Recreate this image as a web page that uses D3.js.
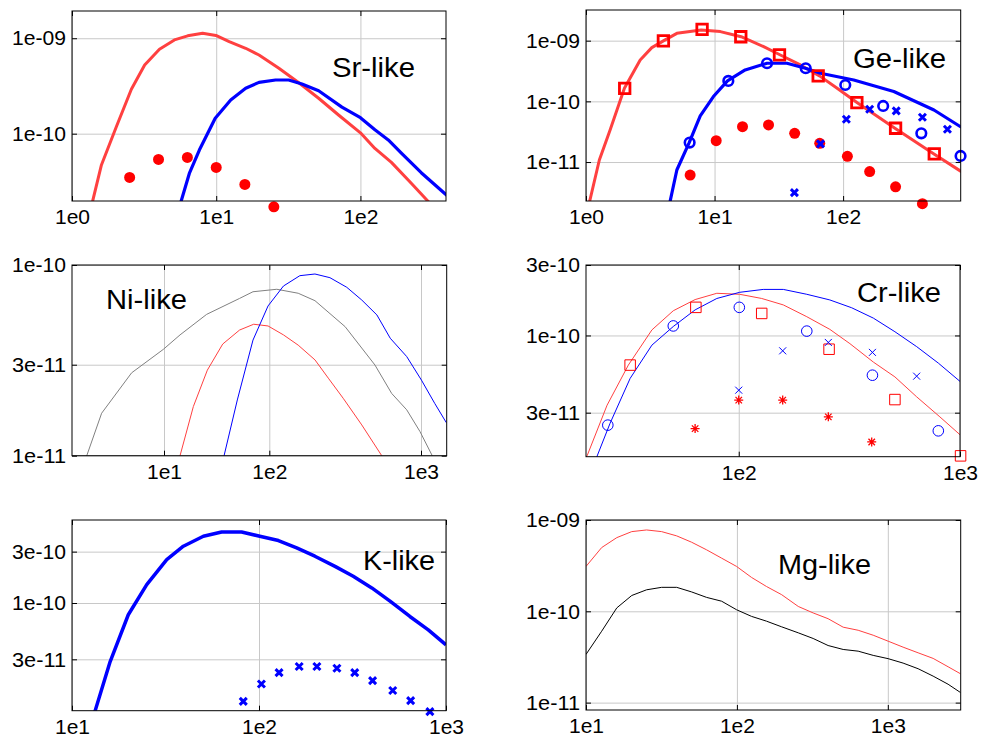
<!DOCTYPE html>
<html>
<head>
<meta charset="utf-8">
<script src="https://cdn.jsdelivr.net/npm/d3@7"></script>
<style>
    body { margin: 0; background: #fff; }
    svg text { font-family: "Liberation Sans", Arial, sans-serif; }
</style>
</head>
<body>
<div id="chart"></div>
<script>
"use strict";

// ---- Sr-like ----
const srXTicks = [1, 10, 100]
const srXLabels = ["1e0", "1e1", "1e2"]
const srYTicks = [1e-9, 1e-10]
const srYLabels = ["1e-09", "1e-10"]
const srRedLine = [[1.30, 1.4e-11], [1.39, 1.96e-11], [1.60, 4.7e-11], [2.03, 1.18e-10], [2.58, 2.92e-10], [3.19, 5.25e-10], [4.04, 7.67e-10], [5.13, 9.6e-10], [6.34, 1.06e-9], [8.05, 1.13e-9], [9.95, 1.07e-9], [12.3, 9.2e-10], [16.0, 7.85e-10], [19.8, 6.68e-10], [27.2, 4.84e-10], [37.4, 3.42e-10], [51.3, 2.35e-10], [70.5, 1.57e-10], [100, 1.02e-10], [126, 7.0e-11], [164, 5.0e-11], [226, 3.0e-11], [294, 1.96e-11], [340, 1.5e-11]]
const srBlueLine = [[5.5, 1.6e-11], [5.71, 1.96e-11], [6.51, 3.83e-11], [7.64, 6.73e-11], [9.84, 1.45e-10], [12.6, 2.25e-10], [16.0, 2.99e-10], [19.8, 3.45e-10], [25.8, 3.65e-10], [31.8, 3.65e-10], [39.3, 3.31e-10], [51.3, 2.82e-10], [74.4, 1.9e-10], [100, 1.47e-10], [126, 1.1e-10], [156, 8.6e-11], [193, 6.2e-11], [264, 3.9e-11], [379, 2.4e-11], [420, 2.1e-11]]
const srRedDots = [[2.51, 3.48e-11], [3.98, 5.37e-11], [6.31, 5.63e-11], [10, 4.43e-11], [15.8, 2.94e-11], [25.1, 1.71e-11]]

// ---- Ge-like ----
const geXTicks = [1, 10, 100]
const geXLabels = ["1e0", "1e1", "1e2"]
const geYTicks = [1e-9, 1e-10, 1e-11]
const geYLabels = ["1e-09", "1e-10", "1e-11"]
const geRedLine = [[1.03, 1.5e-12], [1.07, 2.3e-12], [1.27, 1.08e-11], [1.54, 3.38e-11], [1.99, 1.64e-10], [2.64, 4.81e-10], [3.25, 7.67e-10], [4.0, 9.9e-10], [5.09, 1.32e-9], [7.87, 1.5e-9], [11.1, 1.41e-9], [16.1, 1.16e-9], [24.1, 7.96e-10], [32.5, 5.81e-10], [46.5, 3.98e-10], [65.5, 2.63e-10], [89.9, 1.64e-10], [129, 9.5e-11], [253, 3.6e-11], [509, 1.36e-11], [832, 6.95e-12]]
const geRedSquares = [[2, 1.64e-10], [4, 9.9e-10], [8, 1.54e-9], [16, 1.16e-9], [32, 5.81e-10], [64, 2.63e-10], [128, 9.5e-11], [256, 3.6e-11], [512, 1.36e-11]]
const geBlueLine = [[4.4, 1.8e-12], [4.52, 2.3e-12], [5.09, 7.4e-12], [6.35, 2.09e-11], [7.74, 5.75e-11], [9.8, 1.2e-10], [12.6, 2.17e-10], [17.3, 3.29e-10], [25.6, 4.24e-10], [36.6, 4.24e-10], [50.9, 3.51e-10], [66.7, 2.9e-10], [121, 2.25e-10], [248, 1.45e-10], [509, 7.2e-11], [832, 3.74e-11]]
const geBlueCircles = [[6.4, 2.09e-11], [12.8, 2.17e-10], [25.6, 4.24e-10], [51.2, 3.51e-10], [104, 1.86e-10], [205, 8.4e-11], [406, 2.97e-11], [820, 1.26e-11]]
const geBlueCross = [[41.8, 3.13e-12], [66.7, 1.99e-11], [106, 5.07e-11], [161, 7.4e-11], [259, 6.95e-11], [414, 5.47e-11], [648, 3.47e-11]]
const geRedDots = [[6.46, 6.1e-12], [10.3, 2.25e-11], [16.5, 3.83e-11], [26.3, 4.08e-11], [42, 2.97e-11], [65.8, 2.03e-11], [108, 1.24e-11], [161, 6.95e-12], [256, 3.9e-12], [414, 2.06e-12]]

// ---- Ni-like ----
const niXTicks = [10, 100, 1000]
const niXLabels = ["1e1", "1e2", "1e3"]
const niYTicks = [1e-10, 3e-11, 1e-11]
const niYLabels = ["1e-10", "3e-11", "1e-11"]
const niGrayLine = [[1.7, 8.5e-12], [1.85, 1.0e-11], [2.56, 1.67e-11], [4.93, 2.72e-11], [9.85, 3.61e-11], [14.2, 4.3e-11], [25.4, 5.51e-11], [52.2, 6.68e-11], [70, 7.24e-11], [112, 7.46e-11], [155, 7.11e-11], [200, 6.5e-11], [316, 4.75e-11], [497, 2.99e-11], [641, 2.12e-11], [805, 1.74e-11], [984, 1.34e-11], [1186, 1.0e-11], [1250, 9e-12]]
const niRedLine = [[13.5, 9e-12], [14.2, 1.0e-11], [19, 1.81e-11], [25.8, 2.81e-11], [36.1, 3.85e-11], [52.2, 4.56e-11], [71.1, 4.89e-11], [97.3, 4.79e-11], [124, 4.3e-11], [155, 3.8e-11], [200, 3.18e-11], [245, 2.55e-11], [307, 2.0e-11], [407, 1.45e-11], [551, 1.0e-11], [600, 9e-12]]
const niBlueLine = [[35, 9e-12], [37.2, 1.0e-11], [49.7, 1.96e-11], [70, 4.04e-11], [97.3, 6.1e-11], [124, 7.76e-11], [159, 8.79e-11], [200, 8.97e-11], [251, 8.58e-11], [324, 7.64e-11], [407, 6.55e-11], [512, 5.47e-11], [627, 4.13e-11], [805, 3.31e-11], [1007, 2.49e-11], [1232, 1.88e-11], [1469, 1.49e-11]]

// ---- Cr-like ----
const crXTicks = [100, 1000]
const crXLabels = ["1e2", "1e3"]
const crYTicks = [3e-10, 1e-10, 3e-11]
const crYLabels = ["3e-10", "1e-10", "3e-11"]
const crBlueLine = [[21.5, 1.2e-11], [22.8, 1.5e-11], [26.2, 2.54e-11], [32.3, 5.12e-11], [40.5, 8.6e-11], [50.6, 1.15e-10], [63.5, 1.49e-10], [79.6, 1.78e-10], [101, 1.96e-10], [129, 2.05e-10], [159, 2.05e-10], [203, 1.9e-10], [258, 1.74e-10], [324, 1.54e-10], [406, 1.31e-10], [508, 1.06e-10], [637, 8.4e-11], [798, 6.5e-11], [1006, 4.85e-11]]
const crRedLine = [[19.5, 1.3e-11], [20.7, 1.55e-11], [25.4, 3.37e-11], [31.7, 6.3e-11], [40.5, 1.09e-10], [50.6, 1.47e-10], [63.5, 1.75e-10], [79.6, 1.93e-10], [101, 1.9e-10], [127, 1.78e-10], [159, 1.61e-10], [203, 1.34e-10], [258, 1.1e-10], [318, 8.8e-11], [406, 6.6e-11], [508, 5.24e-11], [637, 3.84e-11], [811, 2.81e-11], [1006, 2.11e-11]]
const crBlueCircles = [[25.6, 2.47e-11], [50.6, 1.16e-10], [100.6, 1.55e-10], [203, 1.07e-10], [402, 5.38e-11], [798, 2.26e-11]]
const crRedSquares = [[32.3, 6.3e-11], [64, 1.55e-10], [127, 1.41e-10], [256, 8.07e-11], [508, 3.68e-11], [1006, 1.53e-11]]
const crBlueCross = [[100, 4.26e-11], [158, 7.87e-11], [254, 8.97e-11], [402, 7.68e-11], [637, 5.3e-11]]
const crRedStars = [[63.5, 2.34e-11], [100, 3.65e-11], [158, 3.65e-11], [254, 2.81e-11], [399, 1.9e-11]]

// ---- K-like ----
const kXTicks = [10, 100, 1000]
const kXLabels = ["1e1", "1e2", "1e3"]
const kYTicks = [3e-10, 1e-10, 3e-11]
const kYLabels = ["3e-10", "1e-10", "3e-11"]
const kBlueLine = [[12.5, 8e-12], [13.3, 1.0e-11], [16, 2.86e-11], [20, 7.78e-11], [25.1, 1.48e-10], [32.1, 2.53e-10], [39.4, 3.37e-10], [50.4, 4.17e-10], [63.1, 4.57e-10], [80.7, 4.57e-10], [101, 4.17e-10], [127, 3.8e-10], [159, 3.25e-10], [199, 2.72e-10], [255, 2.19e-10], [319, 1.77e-10], [401, 1.38e-10], [502, 1.04e-10], [641, 7.5e-11], [804, 5.64e-11], [1000, 4.09e-11]]
const kBlueCross = [[82.4, 1.22e-11], [103, 1.77e-11], [128, 2.26e-11], [164, 2.57e-11], [204, 2.57e-11], [261, 2.48e-11], [325, 2.26e-11], [405, 1.9e-11], [519, 1.54e-11], [647, 1.24e-11], [820, 9.8e-12]]

// ---- Mg-like ----
const mgXTicks = [10, 100, 1000]
const mgXLabels = ["1e1", "1e2", "1e3"]
const mgYTicks = [1e-9, 1e-10, 1e-11]
const mgYLabels = ["1e-09", "1e-10", "1e-11"]
const mgRedLine = [[10, 3.1e-10], [12.7, 4.99e-10], [16, 6.41e-10], [20.1, 7.46e-10], [25.2, 7.78e-10], [31.7, 7.46e-10], [39.9, 6.7e-10], [50.1, 5.71e-10], [63, 4.71e-10], [79.2, 3.82e-10], [99.5, 3.1e-10], [125, 2.35e-10], [157, 1.87e-10], [198, 1.52e-10], [255, 1.13e-10], [320, 9.6e-11], [402, 8.3e-11], [506, 6.7e-11], [636, 6.2e-11], [800, 5.47e-11], [1004, 4.71e-11], [1262, 4.05e-11], [1588, 3.51e-11], [1996, 3.05e-11], [2508, 2.47e-11], [3030, 2.07e-11]]
const mgBlackLine = [[10, 3.37e-11], [12.7, 6.05e-11], [16, 1.09e-10], [20.1, 1.49e-10], [25.2, 1.72e-10], [31.7, 1.83e-10], [39.9, 1.83e-10], [50.1, 1.63e-10], [63, 1.42e-10], [79.2, 1.29e-10], [99.5, 1.04e-10], [125, 8.8e-11], [157, 7.8e-11], [198, 6.76e-11], [255, 5.81e-11], [320, 5.04e-11], [402, 4.22e-11], [506, 3.82e-11], [636, 3.66e-11], [800, 3.29e-11], [1004, 3.03e-11], [1262, 2.71e-11], [1588, 2.35e-11], [1996, 1.95e-11], [2508, 1.59e-11], [3030, 1.29e-11]]

const RED = "#ff0000"
const LRED = "#ff4040"
const BLUE = "#0000ff"

const svg = d3.select("#chart").append("svg")
    .attr("width", 981)
    .attr("height", 745)

// marker outlines around (0,0)
function markerPath(type, s) {
    const h = s / 2
    if (type === "square") return `M${-h},${-h}h${s}v${s}h${-s}Z`
    if (type === "cross") return `M${-h},${-h}L${h},${h}M${-h},${h}L${h},${-h}`
    if (type === "star") {
        const d = h * 0.72
        return `M${-h},0H${h}M0,${-h}V${h}M${-d},${-d}L${d},${d}M${-d},${d}L${d},${-d}`
    }
    return ""
}

const panels = [
    {
        name: "sr", box: { left: 72, right: 446, top: 11, bottom: 201 },
        xDomain: [1, 392], yDomain: [1.97e-11, 1.93e-9],
        xTicks: srXTicks, xLabels: srXLabels, yTicks: srYTicks, yLabels: srYLabels,
        title: { text: "Sr-like", x: 332, y: 77, len: 83 },
        series: [
            { data: srRedLine, type: "line", color: LRED, width: 3 },
            { data: srBlueLine, type: "line", color: BLUE, width: 3.2 },
            { data: srRedDots, type: "dot", color: RED, size: 5.5 }
        ]
    },
    {
        name: "ge", box: { left: 586, right: 960.7, top: 10, bottom: 201 },
        xDomain: [1, 822], yDomain: [2.28e-12, 3.2e-9],
        xTicks: geXTicks, xLabels: geXLabels, yTicks: geYTicks, yLabels: geYLabels,
        title: { text: "Ge-like", x: 853, y: 68, len: 93 },
        series: [
            { data: geRedLine, type: "line", color: LRED, width: 3 },
            { data: geBlueLine, type: "line", color: BLUE, width: 3.2 },
            { data: geRedDots, type: "dot", color: RED, size: 5.5 },
            { data: geRedSquares, type: "square", color: RED, size: 10.5, width: 2.8 },
            { data: geBlueCircles, type: "circle", color: BLUE, size: 4.8, width: 2.6 },
            { data: geBlueCross, type: "cross", color: BLUE, size: 7, width: 3 }
        ]
    },
    {
        name: "ni", box: { left: 72, right: 446.7, top: 265, bottom: 455.7 },
        xDomain: [1.34, 10, 100, 1000, 1477], xRange: [72, 164, 269.3, 421, 446.7],
        yDomain: [1e-11, 1e-10],
        xTicks: niXTicks, xLabels: niXLabels, yTicks: niYTicks, yLabels: niYLabels,
        title: { text: "Ni-like", x: 106, y: 309, len: 81 },
        series: [
            { data: niGrayLine, type: "line", color: "#808080", width: 1 },
            { data: niRedLine, type: "line", color: LRED, width: 1 },
            { data: niBlueLine, type: "line", color: BLUE, width: 1 }
        ]
    },
    {
        name: "cr", box: { left: 586, right: 960, top: 265, bottom: 456.7 },
        xDomain: [20.4, 1000], yDomain: [1.51e-11, 3e-10],
        xTicks: crXTicks, xLabels: crXLabels, yTicks: crYTicks, yLabels: crYLabels,
        title: { text: "Cr-like", x: 857, y: 302, len: 84 },
        series: [
            { data: crRedLine, type: "line", color: LRED, width: 1 },
            { data: crBlueLine, type: "line", color: BLUE, width: 1 },
            { data: crBlueCircles, type: "circle", color: BLUE, size: 5.3, width: 1 },
            { data: crRedSquares, type: "square", color: RED, size: 10.5, width: 1 },
            { data: crBlueCross, type: "cross", color: BLUE, size: 7, width: 1 },
            { data: crRedStars, type: "star", color: RED, size: 9, width: 1.3 }
        ]
    },
    {
        name: "k", box: { left: 72, right: 446, top: 520, bottom: 710.7 },
        xDomain: [10, 1000], yDomain: [1e-11, 5.9e-10],
        xTicks: kXTicks, xLabels: kXLabels, yTicks: kYTicks, yLabels: kYLabels,
        title: { text: "K-like", x: 363, y: 570, len: 72 },
        series: [
            { data: kBlueLine, type: "line", color: BLUE, width: 3.5 },
            { data: kBlueCross, type: "cross", color: BLUE, size: 7, width: 3 }
        ]
    },
    {
        name: "mg", box: { left: 586, right: 960.7, top: 520, bottom: 710 },
        xDomain: [10, 3040], yDomain: [8.3e-12, 1e-9],
        xTicks: mgXTicks, xLabels: mgXLabels, yTicks: mgYTicks, yLabels: mgYLabels,
        title: { text: "Mg-like", x: 778, y: 574, len: 93 },
        series: [
            { data: mgRedLine, type: "line", color: LRED, width: 1 },
            { data: mgBlackLine, type: "line", color: "#000000", width: 1 }
        ]
    }
]

panels.forEach(drawPanel)

function drawPanel(p) {
    const b = p.box
    const scaleX = d3.scaleLog().domain(p.xDomain).range(p.xRange || [b.left, b.right])
    const scaleY = d3.scaleLog().domain(p.yDomain).range([b.bottom, b.top])
    const g = svg.append("g").attr("class", "panel-" + p.name)

    svg.append("clipPath").attr("id", "clip-" + p.name)
        .append("rect")
        .attr("x", b.left).attr("y", b.top)
        .attr("width", b.right - b.left).attr("height", b.bottom - b.top)

    // gridlines
    const gx = g.append("g")
        .attr("transform", `translate(0,${b.bottom})`)
        .call(d3.axisBottom(scaleX).tickValues(p.xTicks).tickFormat("")
            .tickSize(-(b.bottom - b.top)))
    const gy = g.append("g")
        .attr("transform", `translate(${b.left},0)`)
        .call(d3.axisLeft(scaleY).tickValues(p.yTicks).tickFormat("")
            .tickSize(-(b.right - b.left)))
    for (const grid of [gx, gy]) {
        grid.select(".domain").remove()
        grid.selectAll("line").attr("stroke", "#c8c8c8").attr("stroke-width", 1)
    }

    // series
    const line = d3.line().x(d => scaleX(d[0])).y(d => scaleY(d[1]))
    p.series.forEach(s => {
        if (s.type === "line") {
            g.append("path")
                .attr("clip-path", `url(#clip-${p.name})`)
                .attr("d", line(s.data))
                .attr("fill", "none")
                .attr("stroke", s.color)
                .attr("stroke-width", s.width)
                .attr("stroke-linejoin", "round")
        } else if (s.type === "dot") {
            g.selectAll(null).data(s.data).enter().append("circle")
                .attr("cx", d => scaleX(d[0]))
                .attr("cy", d => scaleY(d[1]))
                .attr("r", s.size)
                .attr("fill", s.color)
        } else if (s.type === "circle") {
            g.selectAll(null).data(s.data).enter().append("circle")
                .attr("cx", d => scaleX(d[0]))
                .attr("cy", d => scaleY(d[1]))
                .attr("r", s.size)
                .attr("fill", "none")
                .attr("stroke", s.color)
                .attr("stroke-width", s.width)
        } else {
            g.selectAll(null).data(s.data).enter().append("path")
                .attr("transform", d => `translate(${scaleX(d[0])},${scaleY(d[1])})`)
                .attr("d", markerPath(s.type, s.size))
                .attr("fill", "none")
                .attr("stroke", s.color)
                .attr("stroke-width", s.width)
        }
    })

    // box
    g.append("rect")
        .attr("x", b.left).attr("y", b.top)
        .attr("width", b.right - b.left).attr("height", b.bottom - b.top)
        .attr("fill", "none").attr("stroke", "#000").attr("stroke-width", 1)

    // inward ticks and labels
    const xLab = d => p.xLabels[p.xTicks.indexOf(d)]
    const yLab = d => p.yLabels[p.yTicks.indexOf(d)]
    const axes = [
        { axis: d3.axisBottom(scaleX).tickValues(p.xTicks).tickFormat(xLab).tickPadding(8), t: `translate(0,${b.bottom})`, size: 21 },
        { axis: d3.axisTop(scaleX).tickValues(p.xTicks).tickFormat(""), t: `translate(0,${b.top})` },
        { axis: d3.axisLeft(scaleY).tickValues(p.yTicks).tickFormat(yLab).tickPadding(6), t: `translate(${b.left},0)`, size: 21, len: 54 },
        { axis: d3.axisRight(scaleY).tickValues(p.yTicks).tickFormat(""), t: `translate(${b.right},0)` }
    ]
    axes.forEach(a => {
        const ag = g.append("g").attr("transform", a.t)
            .call(a.axis.tickSizeInner(-5).tickSizeOuter(0))
        ag.select(".domain").remove()
        ag.selectAll("line").attr("stroke", "#000")
        const txt = ag.selectAll("text")
            .style("font-family", '"Liberation Sans", Arial, sans-serif')
            .style("font-size", (a.size || 17) + "px")
            .attr("fill", "#000")
        // y labels in the original are horizontally condensed
        if (a.len) txt.attr("textLength", a.len).attr("lengthAdjust", "spacingAndGlyphs")
    })

    // panel title
    g.append("text")
        .attr("x", p.title.x)
        .attr("y", p.title.y)
        .attr("textLength", p.title.len)
        .attr("lengthAdjust", "spacingAndGlyphs")
        .style("font-size", "27px")
        .text(p.title.text)
}
</script>
</body>
</html>
